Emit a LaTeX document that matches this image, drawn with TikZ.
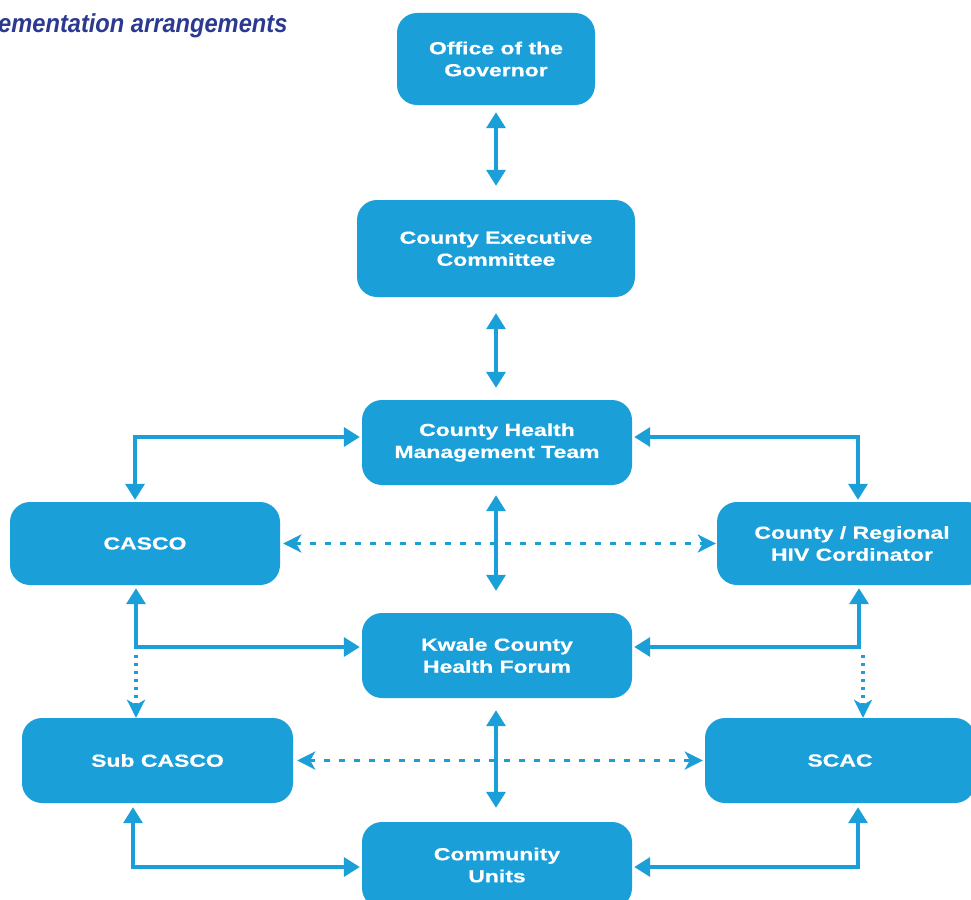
\documentclass[tikz,border=0pt]{standalone}
\usepackage{fontspec}
\usetikzlibrary{arrows.meta,calc}
\newfontfamily\boxfont{Liberation Sans}[FakeStretch=1.32,FakeBold=0.6]
\newfontfamily\titlefont{Liberation Sans}[FakeStretch=0.91]
\definecolor{boxblue}{RGB}{26,159,217}
\definecolor{titleblue}{RGB}{43,57,144}
\tikzset{
  tri/.tip={Triangle[length=16pt,width=19pt]},
  dtip/.tip={Stealth[length=18pt,width=18pt,inset=5pt]},
  box/.style={draw=none, fill=boxblue, rounded corners=20pt, text=white, align=center,
    inner sep=0pt, font=\boxfont\bfseries\fontsize{17.4}{22}\selectfont},
  link/.style={draw=boxblue, line width=3.4pt},
  dashline/.style={draw=boxblue, line width=3.4pt, dash pattern=on 6pt off 9pt},
  dotline/.style={draw=boxblue, line width=3.4pt, dash pattern=on 3pt off 5pt},
  titlestyle/.style={text=titleblue, inner sep=0pt, font=\titlefont\bfseries\itshape\fontsize{26}{30}\selectfont}
}
\begin{document}
\begin{tikzpicture}[x=1pt,y=-1pt]
\useasboundingbox (0,0) rectangle (971,899);
\clip (0,0) rectangle (971,899);
\fill[white] (0,0) rectangle (971,899);

\node[titlestyle, anchor=base west] (title) at (-2,33) {ementation arrangements};

\node[box, minimum width=198pt, minimum height=92pt] (gov) at (496,59) {Office of the\\Governor};
\node[box, minimum width=278pt, minimum height=97pt] (cec) at (496,248.5) {County Executive\\Committee};
\node[box, minimum width=270pt, minimum height=85pt] (chmt) at (497,442.5) {County Health\\Management Team};
\node[box, minimum width=270pt, minimum height=83pt] (casco) at (145,543.5) {CASCO};
\node[box, minimum width=270pt, minimum height=83pt] (hiv) at (852,543.5) {County / Regional\\HIV Cordinator};
\node[box, minimum width=270pt, minimum height=85pt] (kwale) at (497,655.5) {Kwale County\\Health Forum};
\node[box, minimum width=271pt, minimum height=85pt] (subcasco) at (157.5,760.5) {Sub CASCO};
\node[box, minimum width=270pt, minimum height=85pt] (scac) at (840,760.5) {SCAC};
\node[box, minimum width=270pt, minimum height=86pt] (cu) at (497,865) {Community\\Units};

% central vertical double arrows
\draw[link, tri-tri, shorten <=7pt, shorten >=14pt] (gov.south -| 496,0) -- (cec.north -| 496,0);
\draw[link, tri-tri, shorten <=16pt, shorten >=12pt] (cec.south -| 496,0) -- (chmt.north -| 496,0);
\draw[link, tri-tri, shorten <=10pt, shorten >=22pt] (chmt.south -| 496,0) -- (kwale.north -| 496,0);
\draw[link, tri-tri, shorten <=12pt, shorten >=14pt] (kwale.south -| 496,0) -- (cu.north -| 496,0);

% CHMT to CASCO / HIV
\coordinate (tl) at (135,437);
\coordinate (tr) at (858,437);
\draw[link, tri-tri, shorten <=2pt, shorten >=2pt] (chmt.west |- tl) -- (tl) -- (casco.north -| tl);
\draw[link, tri-tri, shorten <=2pt, shorten >=2pt] (chmt.east |- tr) -- (tr) -- (hiv.north -| tr);

% CASCO / HIV to Kwale
\coordinate (ml) at (136,647);
\coordinate (mr) at (859,647);
\draw[link, tri-tri, shorten <=3pt, shorten >=2pt] (casco.south -| ml) -- (ml) -- (kwale.west |- ml);
\draw[link, tri-tri, shorten <=3pt, shorten >=2pt] (hiv.south -| mr) -- (mr) -- (kwale.east |- mr);

% dotted down to Sub CASCO / SCAC
\coordinate (dl) at (136,655);
\coordinate (dr) at (863,655);
\draw[dotline, -dtip, shorten >=0pt] (dl) -- (subcasco.north -| dl);
\draw[dotline, -dtip, shorten >=0pt] (dr) -- (scac.north -| dr);

% Sub CASCO / SCAC to Community Units
\coordinate (bl) at (133,867);
\coordinate (br) at (858,867);
\draw[link, tri-tri, shorten <=4pt, shorten >=2pt] (subcasco.south -| bl) -- (bl) -- (cu.west |- bl);
\draw[link, tri-tri, shorten <=4pt, shorten >=2pt] (scac.south -| br) -- (br) -- (cu.east |- br);

% dashed horizontals
\draw[dashline, dtip-dtip, shorten <=3pt, shorten >=1pt] (casco.east) -- (hiv.west);
\draw[dashline, dtip-dtip, shorten <=4pt, shorten >=2pt] (subcasco.east) -- (scac.west);
\end{tikzpicture}
\end{document}
